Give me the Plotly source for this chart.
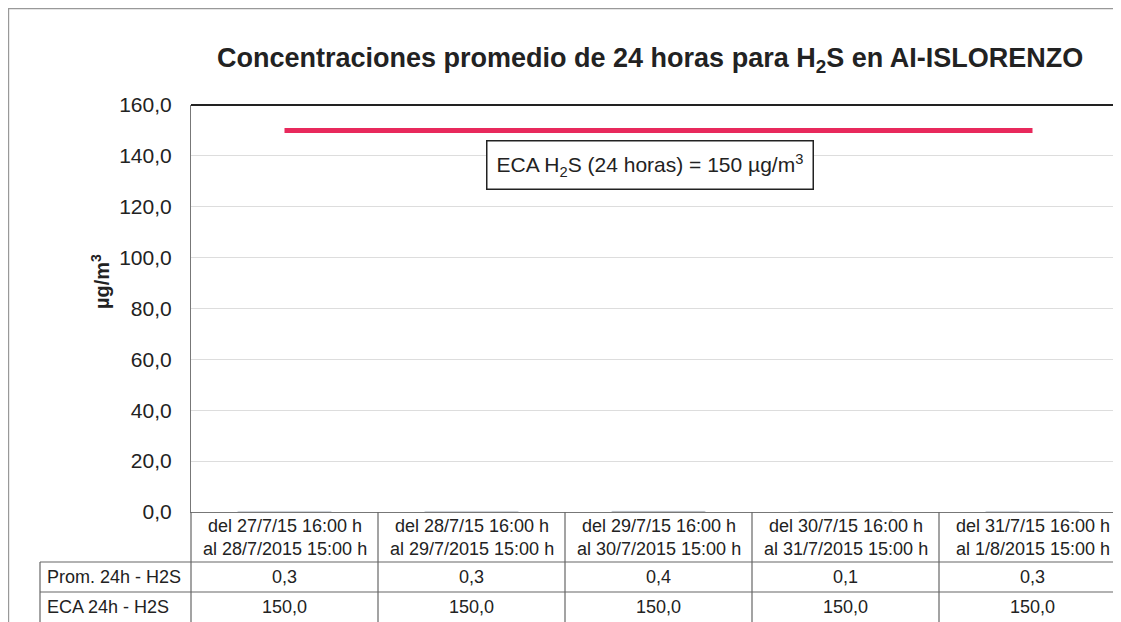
import plotly.graph_objects as go

# ---- data ----
categories = [
    "del 27/7/15 16:00 h<br>al 28/7/2015 15:00 h",
    "del 28/7/15 16:00 h<br>al 29/7/2015 15:00 h",
    "del 29/7/15 16:00 h<br>al 30/7/2015 15:00 h",
    "del 30/7/15 16:00 h<br>al 31/7/2015 15:00 h",
    "del 31/7/15 16:00 h<br>al 1/8/2015 15:00 h",
]
prom_24h = [0.3, 0.3, 0.4, 0.1, 0.3]
eca_24h = [150.0, 150.0, 150.0, 150.0, 150.0]
row_names = ["Prom. 24h - H2S", "ECA 24h - H2S"]
y_ticks = [0, 20, 40, 60, 80, 100, 120, 140, 160]

OFF = 8  # page body offset
W, H = 1121, 622
L, R, T, B = 191 - OFF, 0, 105 - OFF, H - (512 - OFF)
PW, PH = W - L - R, H - T - B
def px(x):  # screen pixel x -> paper
    return (x - OFF - L) / PW
def py(y):  # screen pixel y -> paper
    return (H - B - (y - OFF)) / PH

xs = list(range(len(categories)))
fig = go.Figure()
fig.add_trace(go.Bar(x=xs, y=prom_24h, marker_color="#9a9a9a", width=0.5, name=row_names[0]))
fig.add_trace(go.Scatter(x=xs, y=eca_24h, mode="lines", name=row_names[1],
                         line=dict(color="#e8295c", width=5)))

font = "Liberation Sans, Arial, sans-serif"
tc = "#222"
shapes = []
annotations = []

def ann(**kw):
    d = dict(showarrow=False, xanchor="center", yanchor="middle")
    d.update(kw)
    annotations.append(d)

# outer frame
shapes.append(dict(type="rect", xref="paper", yref="paper", x0=px(8.6), x1=px(1140),
                   y0=py(660), y1=py(8.6), line=dict(color="#999", width=1.2)))
# top border of plot
shapes.append(dict(type="line", xref="paper", yref="paper", x0=0, x1=1, y0=1, y1=1,
                   line=dict(color="#222", width=2)))

# table lines
line_c = dict(color="#666", width=1.2)
for yy in [562, 592]:
    shapes.append(dict(type="line", xref="paper", yref="paper", x0=px(40), x1=1,
                       y0=py(yy), y1=py(yy), line=line_c))
shapes.append(dict(type="line", xref="paper", yref="paper", x0=px(40), x1=px(40),
                   y0=py(562), y1=py(660), line=line_c))
shapes.append(dict(type="line", xref="paper", yref="paper", x0=0, x1=0,
                   y0=py(512), y1=py(660), line=line_c))
for i in range(len(categories) - 1):
    shapes.append(dict(type="line", xref="x", yref="paper", x0=i + 0.5, x1=i + 0.5,
                       y0=py(512), y1=py(660), line=line_c))

tfont = dict(family=font, size=18, color=tc)
for i, c in enumerate(categories):
    ann(xref="x", yref="paper", x=i, y=py(537), text=c, font=tfont, align="center")
    ann(xref="x", yref="paper", x=i, y=py(577),
        text=f"{prom_24h[i]:.1f}".replace(".", ","), font=tfont)
    ann(xref="x", yref="paper", x=i, y=py(607),
        text=f"{eca_24h[i]:.1f}".replace(".", ","), font=tfont)
for j, rn in enumerate(row_names):
    ann(xref="paper", yref="paper", x=px(45), y=py(577 + 30 * j), xanchor="left",
        text=rn, font=tfont)

# y-axis title
ann(xref="paper", yref="paper", x=px(100), y=py(282), text="<b>µg/m<sup>3</sup></b>",
    textangle=-90, font=dict(family=font, size=20, color=tc))
# ECA label box
ann(xref="paper", yref="paper", x=px(650), y=py(165),
    text="ECA H<sub>2</sub>S (24 horas) = 150 µg/m<sup>3</sup>",
    font=dict(family=font, size=21, color=tc), bordercolor="#222",
    borderwidth=1.5, borderpad=9, bgcolor="white")
# title
ann(xref="paper", yref="paper", x=px(650), y=py(60),
    text="<b>Concentraciones promedio de 24 horas para H<sub>2</sub>S en AI-ISLORENZO</b>",
    font=dict(family=font, size=27, color=tc))

fig.update_layout(
    width=W, height=H, margin=dict(l=L, r=R, t=T, b=B),
    paper_bgcolor="white", plot_bgcolor="white", showlegend=False,
    separators=",.",
    shapes=shapes, annotations=annotations,
    xaxis=dict(range=[-0.5, -0.5 + PW / 187.0], showticklabels=False, showgrid=False,
               zeroline=False, showline=True, linecolor="#777", linewidth=1.2, ticks=""),
    yaxis=dict(range=[0, 160], tickvals=y_ticks, tickformat=".1f", showgrid=True,
               gridcolor="#ddd", gridwidth=1, zeroline=False, showline=True, linecolor="#777",
               linewidth=1.2, ticks="", ticklabelstandoff=14,
               tickfont=dict(family=font, size=21, color=tc)),
)
fig.write_html("out.html")
